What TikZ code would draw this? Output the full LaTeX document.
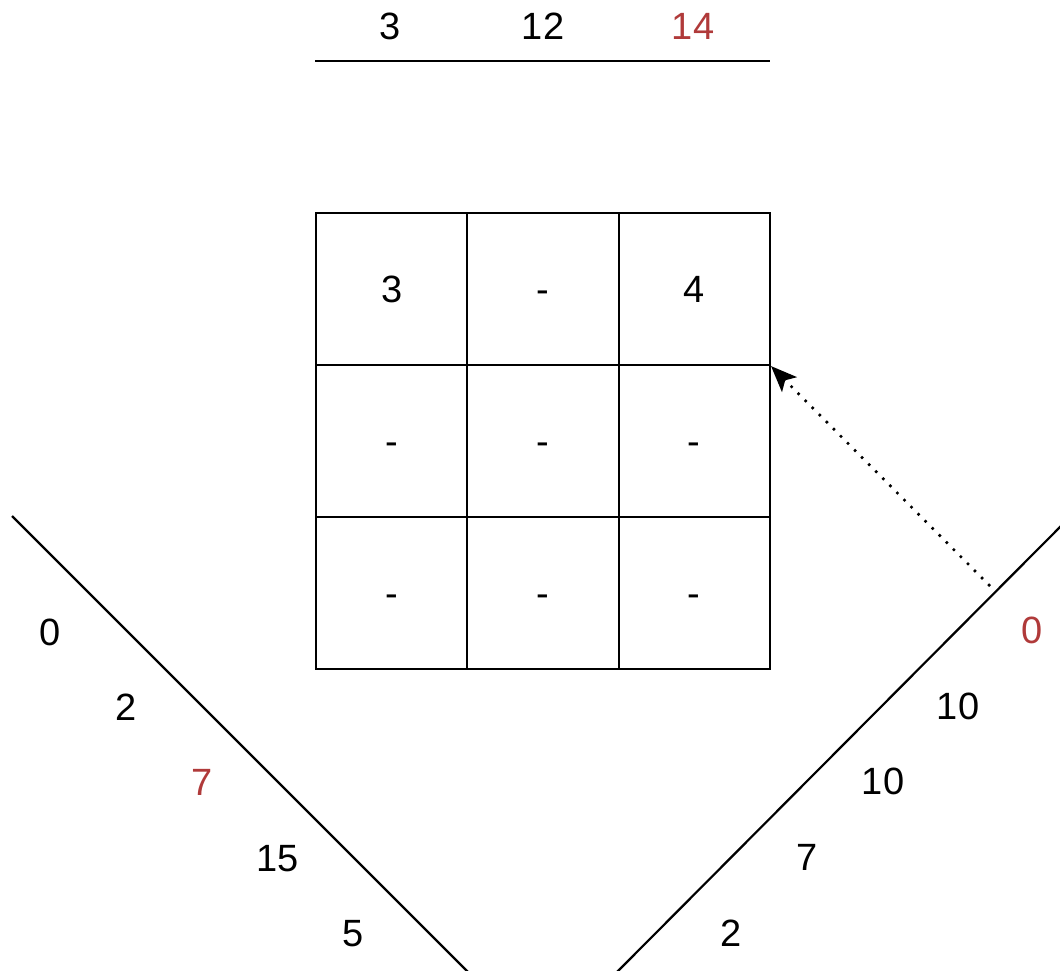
\documentclass[tikz,border=0pt]{standalone}
\usepackage{fontspec}
\setmainfont{Liberation Sans}
\usetikzlibrary{arrows.meta}
\definecolor{numred}{RGB}{176,58,58}
\begin{document}
\begin{tikzpicture}[x=1pt,y=-1pt,
  num/.style={font=\fontsize{38}{40}\selectfont, inner sep=0pt, text height=27pt, text depth=0pt, anchor=center},
  rednum/.style={num, text=numred},
  cell/.style={draw, line width=2.2pt, minimum width=151.3pt, minimum height=152pt, inner sep=0pt},
  edge/.style={line width=2.2pt},
  ptr/.style={line width=2.6pt, dash pattern=on 2.5pt off 7.5pt, -{Stealth[length=26pt,width=21pt,inset=6pt]}}
]
\useasboundingbox (0,0) rectangle (1060,970);
% top list
\coordinate (tl) at (315,61);
\coordinate (tr) at (770,61);
\draw[edge] (tl) -- (tr);
\node[num] (t1) at (390,26) {3};
\node[num] (t2) at (543,26) {12};
\node[rednum] (t3) at (693,26) {14};
% grid
\foreach \r/\y in {1/289, 2/441, 3/593}{
  \foreach \c/\x in {1/391.7, 2/543, 3/694.3}{
    \node[cell] (c\r\c) at (\x,\y) {};
  }
}
\node[num] (v11) at (c11) {3};
\node[num] (v12) at (c12) {-};
\node[num] (v13) at (c13) {4};
\foreach \r/\c in {2/1,2/2,2/3,3/1,3/2,3/3}{
  \node[num] (v\r\c) at (c\r\c) {-};
}
% left diagonal
\coordinate (la) at (12,516);
\coordinate (lb) at (468,972);
\draw[edge] (la) -- (lb);
\node[num] (l1) at (50,632) {0};
\node[num] (l2) at (126,707) {2};
\node[rednum] (l3) at (202,782) {7};
\node[num] (l4) at (278,858) {15};
\node[num] (l5) at (353,933) {5};
% right diagonal
\coordinate (ra) at (617,972);
\coordinate (rb) at (1062,525);
\draw[edge] (ra) -- (rb);
\node[rednum] (r1) at (1032,630) {0};
\node[num] (r2) at (958,706) {10};
\node[num] (r3) at (883,781) {10};
\node[num] (r4) at (807,857) {7};
\node[num] (r5) at (731,933) {2};
% pointer
\coordinate (ps) at (990,586);
\draw[ptr] (ps) -- (c13.south east);
\end{tikzpicture}
\end{document}
